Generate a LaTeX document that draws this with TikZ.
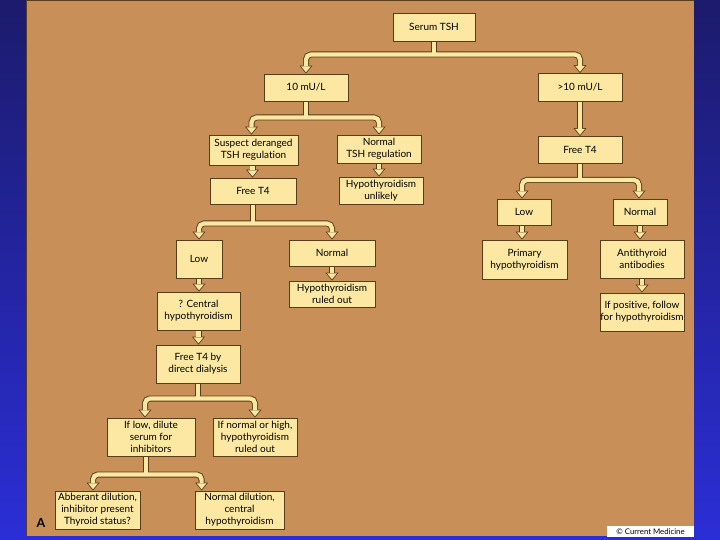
\documentclass[tikz,border=0pt]{standalone}
\usepackage{fontspec}
\setmainfont{Lato}[Ligatures=NoCommon]
\usetikzlibrary{arrows.meta,backgrounds}
\definecolor{tanbg}{HTML}{C88F59}
\definecolor{boxfill}{HTML}{FCE8A2}
\definecolor{edge}{HTML}{5A3C18}
\definecolor{navy}{HTML}{1C1B6C}
\definecolor{brightblue}{HTML}{2B2ED6}
\begin{document}
\begin{tikzpicture}[x=1pt,y=-1pt,
  box/.style={draw=edge, fill=boxfill, line width=0.8pt, align=center, inner sep=0pt,
    font=\fontsize{10}{12}\selectfont, text=black},
  C/.style={draw=\col, line width=\lw, rounded corners=5pt, shorten >=\sh,
    arrows={-Triangle[width=\tw,length=\tl,line width=0pt]}},
  B/.style={draw=\col, line width=\lw, rounded corners=5pt, shorten >=\sh, shorten <=\sh,
    arrows={Triangle[width=\tw,length=\tl,line width=0pt]-Triangle[width=\tw,length=\tl,line width=0pt]}},
  S/.style={draw=\col, line width=\lw}
]
\useasboundingbox (0,0) rectangle (720,540);
\begin{scope}[on background layer]
  \fill[top color=navy, bottom color=brightblue] (0,0) rectangle (720,540);
  \fill[tanbg] (26,0) rectangle (694,536);
  \draw[edge, line width=1.4pt] (26,0.7) -- (694,0.7);
  \draw[edge, line width=0.8pt] (26.4,0) -- (26.4,536);
\end{scope}

% boxes
\node[box, minimum width=82pt, minimum height=28pt] (tsh) at (434,27) {Serum TSH};
\node[box, minimum width=84pt, minimum height=27pt] (lo10) at (306,87.5) {10 mU/L};
\node[box, minimum width=84pt, minimum height=28pt] (hi10) at (580,87.5) {>10 mU/L};
\node[box, minimum width=89pt, minimum height=30pt] (susp) at (253.5,150) {Suspect deranged\\TSH regulation};
\node[box, minimum width=84pt, minimum height=28pt] (normtsh) at (379,149) {Normal\\TSH regulation};
\node[box, minimum width=86pt, minimum height=26pt] (ft4l) at (253,191) {Free T4};
\node[box, minimum width=84pt, minimum height=27pt] (unlikely) at (381,190.5) {Hypothyroidism\\unlikely};
\node[box, minimum width=46pt, minimum height=38pt] (lowl) at (199,259) {Low};
\node[box, minimum width=86pt, minimum height=26pt] (norml) at (332,253) {Normal};
\node[box, minimum width=86pt, minimum height=26pt] (ruled) at (332,294) {Hypothyroidism\\ruled out};
\node[box, minimum width=83pt, minimum height=38pt] (central) at (198.5,311) {? Central\\hypothyroidism};
\node[box, minimum width=84pt, minimum height=38pt] (ftdd) at (198,364) {Free T4 by\\direct dialysis};
\node[box, minimum width=88pt, minimum height=38pt] (iflow) at (151,437) {If low, dilute\\serum for\\inhibitors};
\node[box, minimum width=84pt, minimum height=38pt] (ifnorm) at (255,437) {If normal or high,\\hypothyroidism\\ruled out};
\node[box, minimum width=85pt, minimum height=38pt] (abber) at (97.5,510) {Abberant dilution,\\inhibitor present\\Thyroid status?};
\node[box, minimum width=89pt, minimum height=38pt] (normdil) at (239.5,510) {Normal dilution,\\central\\hypothyroidism};
\node[box, minimum width=84pt, minimum height=27pt] (ft4r) at (580,150) {Free T4};
\node[box, minimum width=54pt, minimum height=26pt] (lowr) at (524,212) {Low};
\node[box, minimum width=54pt, minimum height=26pt] (normr) at (640,212) {Normal};
\node[box, minimum width=85pt, minimum height=39pt] (primary) at (524.5,259.5) {Primary\\hypothyroidism};
\node[box, minimum width=84pt, minimum height=38pt] (anti) at (642,259) {Antithyroid\\antibodies};
\node[box, minimum width=84pt, minimum height=38pt] (ifpos) at (642,312) {If positive, follow\\for hypothyroidism};

\node[font=\bfseries\fontsize{12.5}{12.5}\selectfont, text=black] (lblA) at (41,523) {A};
\node[fill=white, inner sep=0pt, minimum width=87pt, minimum height=11.5pt,
  font=\fontsize{7.8}{8}\selectfont, text=black] (copy) at (650.5,531.5) {© Current Medicine};

% junction points
\coordinate (j1) at (434,54.5);
\coordinate (j2) at (306,117.5);
\coordinate (j3) at (253,223.5);
\coordinate (j4) at (580,180);
\coordinate (j5) at (198,398.5);
\coordinate (j6) at (146,474.5);

\begin{scope}[on background layer]
\foreach \lw/\col/\tw/\tl/\sh in {6pt/edge/13pt/8pt/0pt, 4.2pt/boxfill/9.6pt/5.9pt/1.3pt}{
  % Serum TSH split
  \draw[S] (tsh.south) -- (j1);
  \draw[B] (lo10.north) |- (j1) -| (hi10.north);
  % 10 mU/L split
  \draw[S] (lo10.south) -- (j2);
  \draw[B] ([xshift=-2pt]susp.north) |- (j2) -| (normtsh.north);
  \draw[C] ([xshift=-1pt]susp.south) -- ([xshift=-1pt]susp.south |- ft4l.north);
  \draw[C] (normtsh.south) -- (normtsh.south |- unlikely.north);
  % Free T4 left split
  \draw[S] (ft4l.south) -- (j3);
  \draw[B] (lowl.north) |- (j3) -| (norml.north);
  \draw[C] (lowl.south) -- (lowl.south |- central.north);
  \draw[C] (norml.south) -- (ruled.north);
  \draw[C] (central.south) -- (central.south |- ftdd.north);
  % dialysis split
  \draw[S] (ftdd.south) -- (j5);
  \draw[B] ([xshift=-6pt]iflow.north) |- (j5) -| (ifnorm.north);
  % dilution split
  \draw[S] ([xshift=-5pt]iflow.south) -- (j6);
  \draw[B] ([xshift=-4.5pt]abber.north) |- (j6) -| ([xshift=7pt]normdil.north west);
  % right side
  \draw[C] (hi10.south) -- (ft4r.north);
  \draw[S] (ft4r.south) -- (j4);
  \draw[B] ([xshift=-2pt]lowr.north) |- (j4) -| ([xshift=-1pt]normr.north);
  \draw[C] ([xshift=-2pt]lowr.south) -- ([xshift=-2pt]lowr.south |- primary.north);
  \draw[C] (normr.south) -- (normr.south |- anti.north);
  \draw[C] (anti.south) -- (ifpos.north);
}
\end{scope}
\end{tikzpicture}
\end{document}
